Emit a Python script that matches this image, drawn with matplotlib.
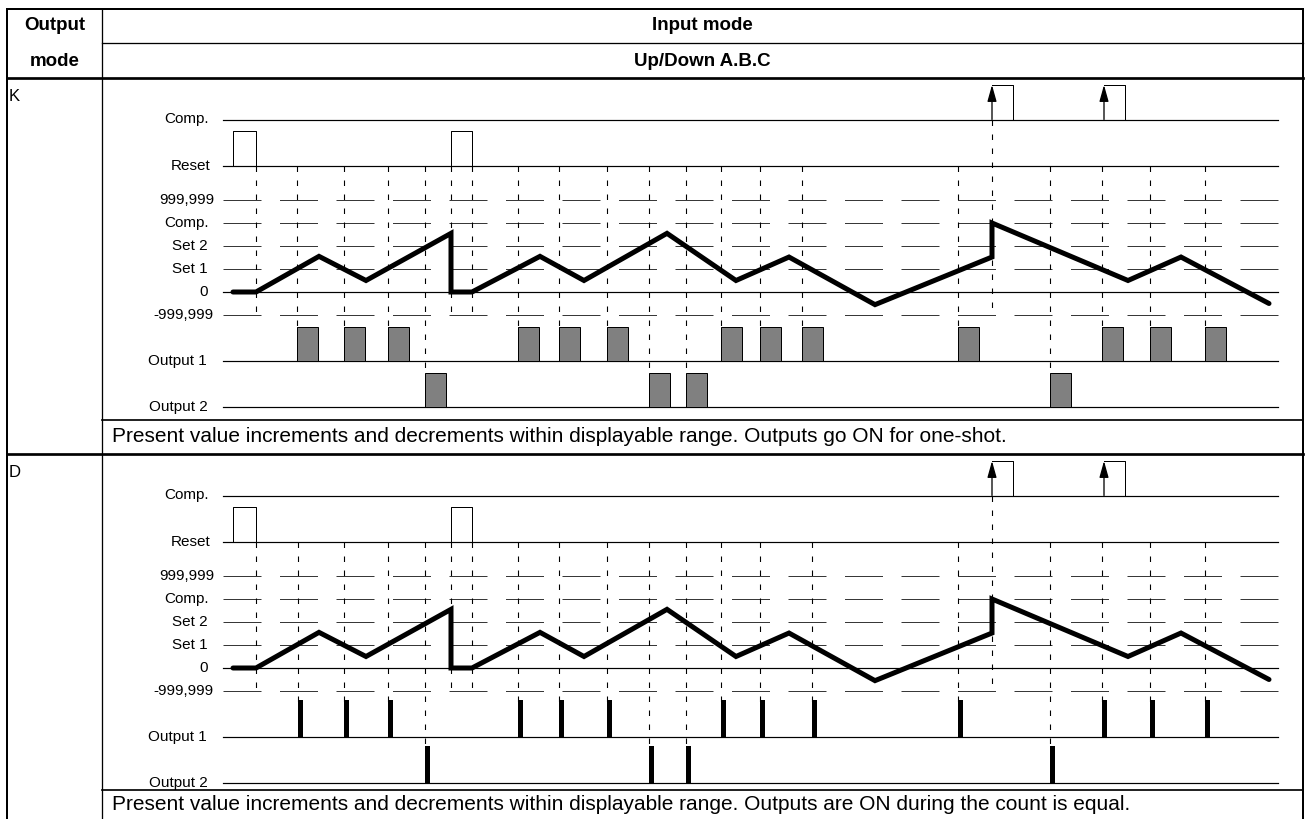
import matplotlib
matplotlib.use('Agg')
import matplotlib.pyplot as plt
from matplotlib.patches import Rectangle

plt.rcParams['font.family'] = ['Liberation Sans', 'DejaVu Sans']
plt.rcParams['lines.scale_dashes'] = False

W, H, DPI = 1307, 819, 100
PX = 72.0 / DPI  # points per pixel

# ---------------- data ----------------
header_left = ['Output', 'mode']
header_right = ['Input mode', 'Up/Down A.B.C']
mode_names = ['K', 'D']
mode_notes = [
    'Present value increments and decrements within displayable range. Outputs go ON for one-shot.',
    'Present value increments and decrements within displayable range. Outputs are ON during the count is equal.',
]

level_labels = ['999,999', 'Comp.', 'Set 2', 'Set 1', '0', '-999,999']
level_values = [4, 3, 2, 1, 0, -1]
level_dashed = [True, True, True, True, False, True]
signal_labels = ['Comp.', 'Reset', 'Output 1', 'Output 2']
signal_rows = [7.5, 5.5, -3, -5]

# present value waveform (time, level)
wave_t = [233, 256, 319, 366, 451, 451, 472, 540, 584, 667, 736, 789, 875,
          992, 992, 1128, 1181, 1269]
wave_v = [0, 0, 1.55, 0.5, 2.55, 0, 0, 1.55, 0.5, 2.55, 0.5, 1.52, -0.55,
          1.52, 3.0, 0.5, 1.52, -0.5]

reset_start = [233, 451]
reset_end = [256, 472]
comp_start = [992, 1104]
comp_end = [1013, 1125]

out1_k = [297, 344, 388, 518, 559, 607, 721, 760, 802, 958, 1102, 1150, 1205]
out2_k = [425, 649, 686, 1050]
out1_d = [298, 344, 388, 518, 559, 607, 721, 760, 812, 958, 1102, 1150, 1205]
out2_d = [425, 649, 686, 1050]

# ---------------- layout ----------------
T_START, T_END = 223, 1278
UNIT = 23.0
panel_zero = [292, 668]
level_label_right = [214, 209, 208, 208, 208, 214]
signal_label_right = [209, 210, 207, 208]

fig = plt.figure(figsize=(W / DPI, H / DPI), dpi=DPI)
base = fig.add_axes([0, 0, 1, 1])
base.set_xlim(0, W)
base.set_ylim(H, 0)
base.axis('off')

# table frame
LEFT, RIGHT, DIV, TOP = 7, 1303, 102, 9
thin = 1.3 * PX
thick = 2.7 * PX
base.plot([LEFT, RIGHT], [TOP, TOP], color='k', lw=2 * PX, solid_capstyle='projecting')
base.plot([LEFT, LEFT], [TOP, H], color='k', lw=2 * PX)
base.plot([RIGHT, RIGHT], [TOP, H], color='k', lw=2 * PX)
base.plot([DIV, DIV], [TOP, H], color='k', lw=thin)
base.plot([DIV, RIGHT], [43, 43], color='k', lw=thin)
base.plot([LEFT, RIGHT], [78, 78], color='k', lw=thick)
base.plot([DIV, RIGHT], [420, 420], color='k', lw=1.7 * PX)
base.plot([LEFT, RIGHT], [454, 454], color='k', lw=thick)
base.plot([DIV, RIGHT], [790, 790], color='k', lw=1.7 * PX)

for txt, y in zip(header_left, [26, 62]):
    base.text((LEFT + DIV) / 2, y, txt, ha='center', va='center', fontsize=13.5, fontweight='bold')
for txt, y in zip(header_right, [26, 62]):
    base.text((DIV + RIGHT) / 2, y, txt, ha='center', va='center', fontsize=13.5, fontweight='bold')

for name, y in zip(mode_names, [89, 465]):
    base.text(9, y, name, ha='left', va='top', fontsize=12)
for note, y in zip(mode_notes, [437, 805]):
    base.text(112, y, note, ha='left', va='center', fontsize=15)


def vdash(ax, t, y_top, y_bot):
    ax.plot([t, t], [y_top, y_bot], color='k', lw=1.1 * PX,
            dashes=(5.5 * PX, 8.5 * PX), zorder=2)


def draw_panel(zero_y, out1, out2, bars):
    ax = fig.add_axes([0, 0, 1, 1])
    ax.patch.set_alpha(0)
    ax.set_xlim(0, W)
    ax.set_ylim((zero_y - H) / UNIT, zero_y / UNIT)
    ax.axis('off')

    # labels and lines
    for lab, v, dsh, xr in zip(level_labels, level_values, level_dashed, level_label_right):
        ax.text(xr, v, lab, ha='right', va='center', fontsize=11)
        if dsh:
            ax.plot([T_START, T_END], [v, v], color='#222222', lw=0.9 * PX,
                    dashes=(38 * PX, 18.5 * PX), zorder=1)
        else:
            ax.plot([T_START, T_END], [v, v], color='k', lw=1.2 * PX, zorder=1)
    for lab, v, xr in zip(signal_labels, signal_rows, signal_label_right):
        ax.text(xr, v, lab, ha='right', va='center', fontsize=11)
        ax.plot([T_START, T_END], [v, v], color='k', lw=1.2 * PX, zorder=1)

    # reset pulses
    for s, e in zip(reset_start, reset_end):
        ax.plot([s, s, e, e], [5.5, 7.0, 7.0, 5.5], color='k', lw=1.0 * PX, zorder=3)
    # comparison pulses with arrows
    for s, e in zip(comp_start, comp_end):
        ax.plot([s, e, e], [9.0, 9.0, 7.5], color='k', lw=1.0 * PX, zorder=3)
        ax.annotate('', xy=(s, 9.0), xytext=(s, 7.5),
                    arrowprops=dict(arrowstyle='-|>,head_length=1.0,head_width=0.28',
                                    mutation_scale=10, lw=1.3 * PX, color='k',
                                    shrinkA=0, shrinkB=0), zorder=4)

    # event dashed lines
    for t in [reset_end[0], reset_start[1], reset_end[1]]:
        vdash(ax, t, 5.5, -1.0)
    vdash(ax, comp_start[0], 7.5, -1.0)
    for t in out1:
        vdash(ax, t, 5.5, -1.5)
    for t in out2:
        vdash(ax, t, 5.5, -3.5)

    # outputs
    if bars:
        for t in out1:
            ax.add_patch(Rectangle((t, -3), 4.5, 1.62, fc='k', ec='none', zorder=3))
        for t in out2:
            ax.add_patch(Rectangle((t, -5), 4.5, 1.62, fc='k', ec='none', zorder=3))
    else:
        for t in out1:
            ax.add_patch(Rectangle((t, -3), 21, 1.5, fc='#808080', ec='k', lw=1.0 * PX, zorder=3))
        for t in out2:
            ax.add_patch(Rectangle((t, -5), 21, 1.5, fc='#808080', ec='k', lw=1.0 * PX, zorder=3))

    # present value
    ax.plot(wave_t, wave_v, color='k', lw=3.6, solid_joinstyle='miter',
            solid_capstyle='round', zorder=5)


draw_panel(panel_zero[0], out1_k, out2_k, bars=False)
draw_panel(panel_zero[1], out1_d, out2_d, bars=True)

fig.savefig('out.png', dpi=DPI)
